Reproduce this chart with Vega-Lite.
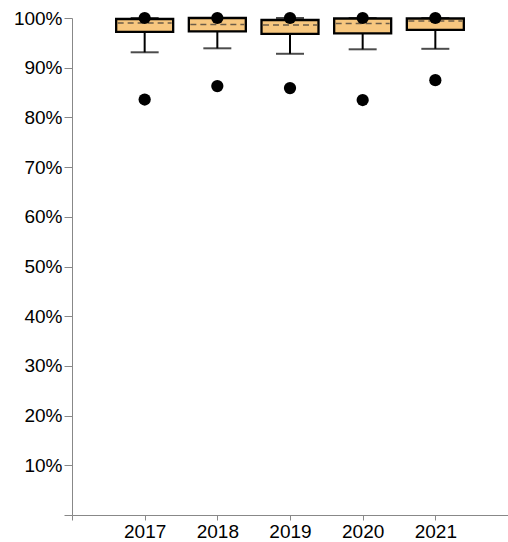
{
  "$schema": "https://vega.github.io/schema/vega-lite/v6.json",
  "width": 436,
  "height": 497,
  "autosize": {"type": "none"},
  "padding": {"left": 72, "top": 18, "right": 0, "bottom": 27},
  "background": "white",
  "config": {"view": {"stroke": null}, "font": "Liberation Sans"},
  "data": {"values": [
    {"year": 2017, "lower": 0.931, "q1": 0.972, "mean": 0.990, "q3": 0.998, "upper": 1.0, "outlier": 0.836, "top": 1.0},
    {"year": 2018, "lower": 0.939, "q1": 0.973, "mean": 0.987, "q3": 1.0, "upper": 1.0, "outlier": 0.863, "top": 1.0},
    {"year": 2019, "lower": 0.928, "q1": 0.968, "mean": 0.986, "q3": 0.996, "upper": 1.0, "outlier": 0.859, "top": 1.0},
    {"year": 2020, "lower": 0.937, "q1": 0.969, "mean": 0.989, "q3": 0.999, "upper": 1.0, "outlier": 0.835, "top": 1.0},
    {"year": 2021, "lower": 0.938, "q1": 0.976, "mean": 0.994, "q3": 0.999, "upper": 1.0, "outlier": 0.875, "top": 1.0}
  ]},
  "encoding": {
    "x": {"field": "year", "type": "quantitative",
      "scale": {"domain": [2016, 2022], "nice": false, "zero": false, "padding": 0},
      "axis": {"values": [2016, 2017, 2018, 2019, 2020, 2021], "format": "d", "title": null, "grid": false,
        "labelExpr": "datum.value == 2016 ? '' : datum.label",
        "domainColor": "#888888", "tickColor": "#888888", "tickSize": 5,
        "labelFontSize": 19, "labelColor": "#000000", "labelPadding": 2, "labelFont": "Liberation Sans"}}
  },
  "layer": [
    {"mark": {"type": "rule", "color": "#000000", "strokeWidth": 2},
     "encoding": {"y": {"field": "lower", "type": "quantitative",
        "scale": {"domain": [0, 1], "nice": false},
        "axis": {"values": [0, 0.1, 0.2, 0.3, 0.4, 0.5, 0.6, 0.7, 0.8, 0.9, 1.0], "format": ".0%", "title": null, "grid": false,
          "labelExpr": "datum.value == 0 ? '' : datum.label",
          "domainColor": "#888888", "tickColor": "#888888", "tickSize": 8,
          "labelFontSize": 19, "labelColor": "#000000", "labelPadding": 2, "labelFont": "Liberation Sans"}},
       "y2": {"field": "q1"}}},
    {"mark": {"type": "tick", "orient": "horizontal", "color": "#000000", "size": 28, "thickness": 2},
     "encoding": {"y": {"field": "lower", "type": "quantitative"}}},
    {"mark": {"type": "tick", "orient": "horizontal", "color": "#000000", "size": 28, "thickness": 2},
     "encoding": {"y": {"field": "upper", "type": "quantitative"}}},
    {"mark": {"type": "bar", "size": 57, "fill": "#F7C77F", "stroke": "#000000", "strokeWidth": 2.3},
     "encoding": {"y": {"field": "q1", "type": "quantitative"}, "y2": {"field": "q3"}}},
    {"mark": {"type": "point", "shape": "M-1,0L1,0", "filled": false, "stroke": "#6B5C48", "strokeWidth": 1.6, "strokeDash": [6, 4], "size": 2916, "opacity": 1},
     "encoding": {"y": {"field": "mean", "type": "quantitative"}}},
    {"mark": {"type": "point", "filled": true, "color": "#000000", "size": 150, "opacity": 1},
     "encoding": {"y": {"field": "outlier", "type": "quantitative"}}},
    {"mark": {"type": "point", "filled": true, "color": "#000000", "size": 150, "opacity": 1},
     "encoding": {"y": {"field": "top", "type": "quantitative"}}}
  ]
}
